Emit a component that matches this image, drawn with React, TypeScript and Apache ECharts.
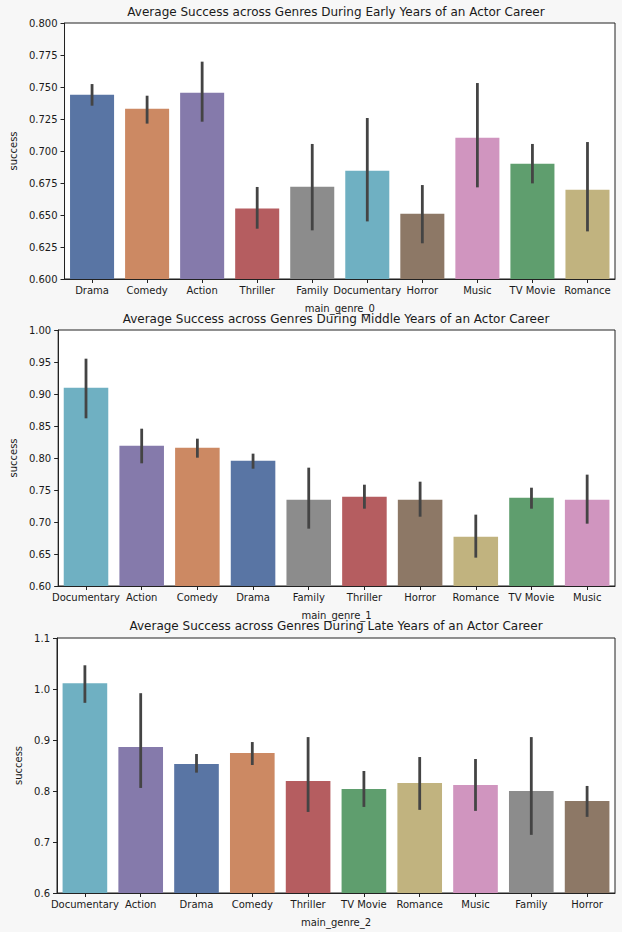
import React, { useEffect, useRef } from "react";
import * as echarts from "echarts";

const titles = [
  "Average Success across Genres During Early Years of an Actor Career",
  "Average Success across Genres During Middle Years of an Actor Career",
  "Average Success across Genres During Late Years of an Actor Career",
];
const xNames = ["main_genre_0", "main_genre_1", "main_genre_2"];

const cats0 = ["Drama", "Comedy", "Action", "Thriller", "Family", "Documentary", "Horror", "Music", "TV Movie", "Romance"];
const vals0 = [0.744, 0.733, 0.7456, 0.655, 0.672, 0.6846, 0.651, 0.7104, 0.690, 0.6698];
const lo0 = [0.7354, 0.7214, 0.7229, 0.6393, 0.638, 0.645, 0.6279, 0.6716, 0.6747, 0.6372];
const hi0 = [0.7523, 0.7432, 0.7698, 0.6719, 0.7055, 0.7258, 0.6734, 0.7531, 0.7055, 0.707];

const cats1 = ["Documentary", "Action", "Comedy", "Drama", "Family", "Thriller", "Horror", "Romance", "TV Movie", "Music"];
const vals1 = [0.9099, 0.8193, 0.8161, 0.7958, 0.7349, 0.7396, 0.7349, 0.6771, 0.738, 0.7349];
const lo1 = [0.862, 0.7917, 0.8005, 0.7833, 0.6896, 0.7208, 0.7083, 0.6443, 0.7208, 0.6974];
const hi1 = [0.9552, 0.8458, 0.8302, 0.8068, 0.7849, 0.7583, 0.763, 0.7115, 0.7536, 0.774];

const cats2 = ["Documentary", "Action", "Drama", "Comedy", "Thriller", "TV Movie", "Romance", "Music", "Family", "Horror"];
const vals2 = [1.0113, 0.8862, 0.8529, 0.8744, 0.8197, 0.804, 0.8158, 0.8118, 0.8001, 0.7806];
const lo2 = [0.9729, 0.806, 0.836, 0.851, 0.759, 0.7688, 0.763, 0.761, 0.714, 0.7493];
const hi2 = [1.0465, 0.9918, 0.8725, 0.896, 0.9057, 0.8392, 0.8666, 0.8627, 0.9057, 0.8099];

const yMin = [0.6, 0.6, 0.6];
const yMax = [0.8, 1.0, 1.1];
const yStep = [0.025, 0.05, 0.1];
const yDecimals = [3, 2, 1];

const genreColors: Record<string, string> = {
  Drama: "#5975a4",
  Comedy: "#cc8963",
  "TV Movie": "#5f9e6e",
  Thriller: "#b55d60",
  Action: "#857aab",
  Horror: "#8d7866",
  Music: "#d095bf",
  Family: "#8c8c8c",
  Romance: "#c1b37f",
  Documentary: "#6fb0c2",
};

const allCats = [cats0, cats1, cats2];
const allVals = [vals0, vals1, vals2];
const allLo = [lo0, lo1, lo2];
const allHi = [hi0, hi1, hi2];

export default function App() {
  const ref = useRef<HTMLDivElement>(null);
  useEffect(() => {
    if (!ref.current) return;
    const chart = echarts.init(ref.current, null, { renderer: "svg" });
    const font = "DejaVu Sans";
    const txt = "#1a1a1a";
    const gridTops = [23, 330, 638];
    const gridHeights = [256, 256, 255];
    const titleTops = [6, 313, 620];

    const grids: any[] = [];
    const xAxes: any[] = [];
    const yAxes: any[] = [];
    const series: any[] = [];
    const titleArr: any[] = [];

    for (let i = 0; i < 3; i++) {
      grids.push({
        left: 57,
        top: gridTops[i],
        width: 558,
        height: gridHeights[i],
        show: true,
        backgroundColor: "#ffffff",
        borderColor: "#222",
        borderWidth: 1,
        containLabel: false,
      });
      titleArr.push({
        text: titles[i],
        left: 336,
        top: titleTops[i],
        padding: 0,
        textAlign: "center",
        textStyle: { fontFamily: font, fontSize: 12, fontWeight: "normal", color: txt },
      });
      xAxes.push({
        type: "category",
        gridIndex: i,
        data: allCats[i],
        name: xNames[i],
        nameLocation: "middle",
        nameGap: 24,
        nameTextStyle: { fontFamily: font, fontSize: 10, color: txt },
        axisLine: { show: true, lineStyle: { color: "#222", width: 1 } },
        axisTick: { show: true, alignWithLabel: true, length: 4, lineStyle: { color: "#222" } },
        axisLabel: { fontFamily: font, fontSize: 10, color: txt, margin: 6, interval: 0 },
        splitLine: { show: false },
      });
      const dec = yDecimals[i];
      yAxes.push({
        type: "value",
        gridIndex: i,
        min: yMin[i],
        max: yMax[i],
        interval: yStep[i],
        name: "success",
        nameLocation: "middle",
        nameGap: [45, 39, 33][i],
        nameRotate: 90,
        nameTextStyle: { fontFamily: font, fontSize: 10, color: txt },
        axisLine: { show: true, lineStyle: { color: "#222", width: 1 } },
        axisTick: { show: true, length: 4, lineStyle: { color: "#222" } },
        axisLabel: {
          fontFamily: font,
          fontSize: 10,
          color: txt,
          margin: 7,
          formatter: (v: number) => v.toFixed(dec),
        },
        splitLine: { show: false },
      });
      series.push({
        type: "bar",
        xAxisIndex: i,
        yAxisIndex: i,
        barWidth: "80%",
        data: allVals[i].map((v, j) => ({
          value: v,
          itemStyle: { color: genreColors[allCats[i][j]] },
        })),
      });
      series.push({
        type: "custom",
        xAxisIndex: i,
        yAxisIndex: i,
        z: 5,
        data: allLo[i].map((lo, j) => [j, lo, allHi[i][j]]),
        encode: { x: 0, y: [1, 2] },
        renderItem: (params: any, api: any) => {
          const idx = api.value(0);
          const p1 = api.coord([idx, api.value(1)]);
          const p2 = api.coord([idx, api.value(2)]);
          return {
            type: "line",
            shape: { x1: p1[0], y1: p1[1], x2: p2[0], y2: p2[1] },
            style: { stroke: "#444444", lineWidth: 2.8 },
          };
        },
      });
    }

    chart.setOption({
      animation: false,
      backgroundColor: "#f7f7f7",
      title: titleArr,
      grid: grids,
      xAxis: xAxes,
      yAxis: yAxes,
      series,
    });
    return () => chart.dispose();
  }, []);
  return (
    <div
      ref={ref}
      style={{ position: "fixed", left: 0, top: 0, width: 622, height: 932, background: "#f7f7f7" }}
    />
  );
}
